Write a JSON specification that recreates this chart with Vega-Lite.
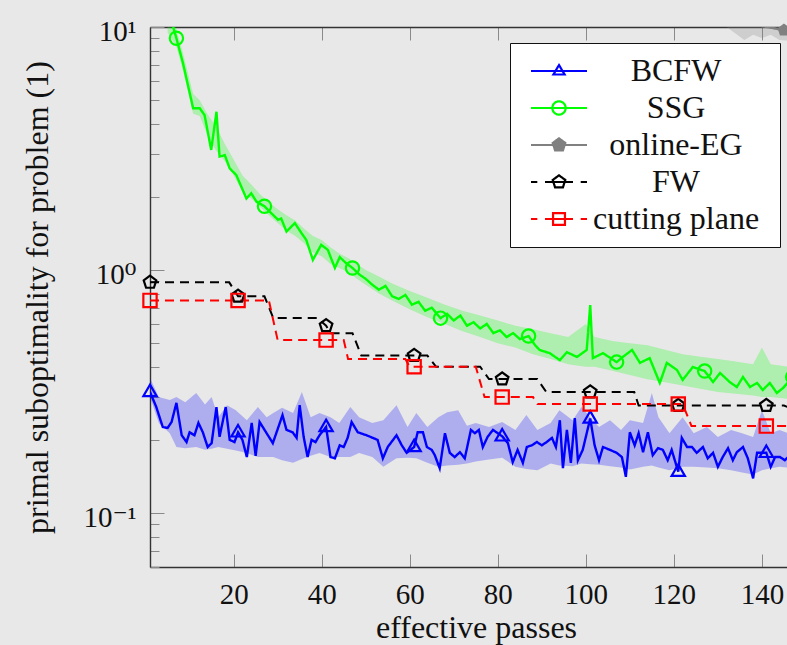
{
  "$schema": "https://vega.github.io/schema/vega-lite/v6.json",
  "width": 637,
  "height": 540,
  "autosize": {"type": "none"},
  "padding": {"left": 150, "top": 27, "right": 0, "bottom": 78},
  "background": "#e8e8e8",
  "view": {"stroke": null},
  "config": {"font": "Liberation Serif, DejaVu Serif, serif"},
  "datasets": {
    "lines": [
      {"series": "BCFW", "passes": 1, "value": 0.315},
      {"series": "BCFW", "passes": 2.4, "value": 0.274},
      {"series": "BCFW", "passes": 3.9, "value": 0.226},
      {"series": "BCFW", "passes": 5, "value": 0.224},
      {"series": "BCFW", "passes": 5.9, "value": 0.237},
      {"series": "BCFW", "passes": 7, "value": 0.284},
      {"series": "BCFW", "passes": 8.2, "value": 0.209},
      {"series": "BCFW", "passes": 9.3, "value": 0.196},
      {"series": "BCFW", "passes": 10, "value": 0.215},
      {"series": "BCFW", "passes": 11.1, "value": 0.209},
      {"series": "BCFW", "passes": 12, "value": 0.235},
      {"series": "BCFW", "passes": 13, "value": 0.215},
      {"series": "BCFW", "passes": 14.1, "value": 0.187},
      {"series": "BCFW", "passes": 15, "value": 0.194},
      {"series": "BCFW", "passes": 16.1, "value": 0.273},
      {"series": "BCFW", "passes": 16.8, "value": 0.206},
      {"series": "BCFW", "passes": 18.2, "value": 0.273},
      {"series": "BCFW", "passes": 19.1, "value": 0.2},
      {"series": "BCFW", "passes": 20.2, "value": 0.196},
      {"series": "BCFW", "passes": 21, "value": 0.215},
      {"series": "BCFW", "passes": 22, "value": 0.2},
      {"series": "BCFW", "passes": 23, "value": 0.17},
      {"series": "BCFW", "passes": 24.1, "value": 0.235},
      {"series": "BCFW", "passes": 25, "value": 0.172},
      {"series": "BCFW", "passes": 25.9, "value": 0.237},
      {"series": "BCFW", "passes": 27.5, "value": 0.213},
      {"series": "BCFW", "passes": 28.9, "value": 0.194},
      {"series": "BCFW", "passes": 31.1, "value": 0.253},
      {"series": "BCFW", "passes": 32, "value": 0.22},
      {"series": "BCFW", "passes": 33.4, "value": 0.215},
      {"series": "BCFW", "passes": 34.3, "value": 0.204},
      {"series": "BCFW", "passes": 35, "value": 0.278},
      {"series": "BCFW", "passes": 35.9, "value": 0.206},
      {"series": "BCFW", "passes": 36.8, "value": 0.17},
      {"series": "BCFW", "passes": 37.7, "value": 0.2},
      {"series": "BCFW", "passes": 38.6, "value": 0.196},
      {"series": "BCFW", "passes": 39.5, "value": 0.209},
      {"series": "BCFW", "passes": 41, "value": 0.226},
      {"series": "BCFW", "passes": 42, "value": 0.17},
      {"series": "BCFW", "passes": 43, "value": 0.168},
      {"series": "BCFW", "passes": 44.1, "value": 0.19},
      {"series": "BCFW", "passes": 45, "value": 0.187},
      {"series": "BCFW", "passes": 45.9, "value": 0.204},
      {"series": "BCFW", "passes": 46.8, "value": 0.237},
      {"series": "BCFW", "passes": 48.2, "value": 0.215},
      {"series": "BCFW", "passes": 50.2, "value": 0.209},
      {"series": "BCFW", "passes": 51.6, "value": 0.204},
      {"series": "BCFW", "passes": 52.7, "value": 0.2},
      {"series": "BCFW", "passes": 53.9, "value": 0.168},
      {"series": "BCFW", "passes": 55, "value": 0.187},
      {"series": "BCFW", "passes": 57, "value": 0.209},
      {"series": "BCFW", "passes": 58.2, "value": 0.19},
      {"series": "BCFW", "passes": 59.3, "value": 0.177},
      {"series": "BCFW", "passes": 61, "value": 0.187},
      {"series": "BCFW", "passes": 61.8, "value": 0.215},
      {"series": "BCFW", "passes": 63, "value": 0.215},
      {"series": "BCFW", "passes": 63.9, "value": 0.187},
      {"series": "BCFW", "passes": 65, "value": 0.182},
      {"series": "BCFW", "passes": 65.7, "value": 0.173},
      {"series": "BCFW", "passes": 66.8, "value": 0.153},
      {"series": "BCFW", "passes": 68, "value": 0.213},
      {"series": "BCFW", "passes": 69.1, "value": 0.177},
      {"series": "BCFW", "passes": 70.2, "value": 0.17},
      {"series": "BCFW", "passes": 71.4, "value": 0.178},
      {"series": "BCFW", "passes": 72.5, "value": 0.168},
      {"series": "BCFW", "passes": 73.9, "value": 0.22},
      {"series": "BCFW", "passes": 74.8, "value": 0.213},
      {"series": "BCFW", "passes": 75.7, "value": 0.22},
      {"series": "BCFW", "passes": 76.6, "value": 0.187},
      {"series": "BCFW", "passes": 77.7, "value": 0.206},
      {"series": "BCFW", "passes": 78.9, "value": 0.22},
      {"series": "BCFW", "passes": 81, "value": 0.207},
      {"series": "BCFW", "passes": 82.3, "value": 0.194},
      {"series": "BCFW", "passes": 83.4, "value": 0.162},
      {"series": "BCFW", "passes": 84.5, "value": 0.182},
      {"series": "BCFW", "passes": 85.7, "value": 0.161},
      {"series": "BCFW", "passes": 86.6, "value": 0.187},
      {"series": "BCFW", "passes": 87.7, "value": 0.19},
      {"series": "BCFW", "passes": 88.9, "value": 0.196},
      {"series": "BCFW", "passes": 90, "value": 0.19},
      {"series": "BCFW", "passes": 91.1, "value": 0.196},
      {"series": "BCFW", "passes": 92.3, "value": 0.204},
      {"series": "BCFW", "passes": 93.2, "value": 0.187},
      {"series": "BCFW", "passes": 94.1, "value": 0.241},
      {"series": "BCFW", "passes": 94.8, "value": 0.153},
      {"series": "BCFW", "passes": 95.7, "value": 0.22},
      {"series": "BCFW", "passes": 96.6, "value": 0.161},
      {"series": "BCFW", "passes": 97.5, "value": 0.246},
      {"series": "BCFW", "passes": 98.2, "value": 0.165},
      {"series": "BCFW", "passes": 99.3, "value": 0.182},
      {"series": "BCFW", "passes": 100.2, "value": 0.213},
      {"series": "BCFW", "passes": 101, "value": 0.245},
      {"series": "BCFW", "passes": 102, "value": 0.19},
      {"series": "BCFW", "passes": 103, "value": 0.165},
      {"series": "BCFW", "passes": 103.9, "value": 0.187},
      {"series": "BCFW", "passes": 105.5, "value": 0.182},
      {"series": "BCFW", "passes": 107, "value": 0.177},
      {"series": "BCFW", "passes": 108.2, "value": 0.17},
      {"series": "BCFW", "passes": 109.1, "value": 0.141},
      {"series": "BCFW", "passes": 110, "value": 0.215},
      {"series": "BCFW", "passes": 111.1, "value": 0.19},
      {"series": "BCFW", "passes": 112, "value": 0.213},
      {"series": "BCFW", "passes": 113, "value": 0.178},
      {"series": "BCFW", "passes": 114.1, "value": 0.215},
      {"series": "BCFW", "passes": 115.2, "value": 0.173},
      {"series": "BCFW", "passes": 116.4, "value": 0.185},
      {"series": "BCFW", "passes": 117.5, "value": 0.182},
      {"series": "BCFW", "passes": 118.6, "value": 0.165},
      {"series": "BCFW", "passes": 119.5, "value": 0.182},
      {"series": "BCFW", "passes": 121, "value": 0.148},
      {"series": "BCFW", "passes": 121.8, "value": 0.204},
      {"series": "BCFW", "passes": 123, "value": 0.187},
      {"series": "BCFW", "passes": 124.1, "value": 0.187},
      {"series": "BCFW", "passes": 125.2, "value": 0.177},
      {"series": "BCFW", "passes": 126.6, "value": 0.187},
      {"series": "BCFW", "passes": 127.7, "value": 0.168},
      {"series": "BCFW", "passes": 128.9, "value": 0.177},
      {"series": "BCFW", "passes": 130, "value": 0.155},
      {"series": "BCFW", "passes": 131.1, "value": 0.17},
      {"series": "BCFW", "passes": 132.3, "value": 0.185},
      {"series": "BCFW", "passes": 133.4, "value": 0.165},
      {"series": "BCFW", "passes": 134.3, "value": 0.178},
      {"series": "BCFW", "passes": 135.7, "value": 0.187},
      {"series": "BCFW", "passes": 136.8, "value": 0.168},
      {"series": "BCFW", "passes": 138, "value": 0.139},
      {"series": "BCFW", "passes": 138.9, "value": 0.177},
      {"series": "BCFW", "passes": 141, "value": 0.177},
      {"series": "BCFW", "passes": 142, "value": 0.155},
      {"series": "BCFW", "passes": 143, "value": 0.17},
      {"series": "BCFW", "passes": 144.1, "value": 0.17},
      {"series": "BCFW", "passes": 145.2, "value": 0.165},
      {"series": "BCFW", "passes": 146.4, "value": 0.173},

      {"series": "SSG", "passes": 5.5, "value": 11.2},
      {"series": "SSG", "passes": 7, "value": 8.99},
      {"series": "SSG", "passes": 8.5, "value": 7.09},
      {"series": "SSG", "passes": 10.8, "value": 4.63},
      {"series": "SSG", "passes": 12.3, "value": 4.63},
      {"series": "SSG", "passes": 13.4, "value": 4.34},
      {"series": "SSG", "passes": 14.9, "value": 3.12},
      {"series": "SSG", "passes": 16.1, "value": 4.48},
      {"series": "SSG", "passes": 16.8, "value": 2.93},
      {"series": "SSG", "passes": 18, "value": 2.97},
      {"series": "SSG", "passes": 19.1, "value": 2.62},
      {"series": "SSG", "passes": 20.6, "value": 2.46},
      {"series": "SSG", "passes": 22.9, "value": 1.97},
      {"series": "SSG", "passes": 24, "value": 2.07},
      {"series": "SSG", "passes": 25.2, "value": 1.91},
      {"series": "SSG", "passes": 27, "value": 1.83},
      {"series": "SSG", "passes": 28.6, "value": 1.71},
      {"series": "SSG", "passes": 30.1, "value": 1.61},
      {"series": "SSG", "passes": 30.8, "value": 1.63},
      {"series": "SSG", "passes": 32, "value": 1.44},
      {"series": "SSG", "passes": 33.9, "value": 1.56},
      {"series": "SSG", "passes": 35.4, "value": 1.42},
      {"series": "SSG", "passes": 36.5, "value": 1.33},
      {"series": "SSG", "passes": 38, "value": 1.1},
      {"series": "SSG", "passes": 39.9, "value": 1.27},
      {"series": "SSG", "passes": 41.4, "value": 1.21},
      {"series": "SSG", "passes": 43, "value": 1.02},
      {"series": "SSG", "passes": 44.1, "value": 1.13},
      {"series": "SSG", "passes": 45.6, "value": 1.065},
      {"series": "SSG", "passes": 47, "value": 1.02},
      {"series": "SSG", "passes": 48.5, "value": 0.96},
      {"series": "SSG", "passes": 50, "value": 0.92},
      {"series": "SSG", "passes": 51.5, "value": 0.87},
      {"series": "SSG", "passes": 53, "value": 0.83},
      {"series": "SSG", "passes": 54.5, "value": 0.86},
      {"series": "SSG", "passes": 56, "value": 0.78},
      {"series": "SSG", "passes": 57.5, "value": 0.76},
      {"series": "SSG", "passes": 59, "value": 0.79},
      {"series": "SSG", "passes": 60.5, "value": 0.72},
      {"series": "SSG", "passes": 62, "value": 0.74},
      {"series": "SSG", "passes": 63.5, "value": 0.68},
      {"series": "SSG", "passes": 65, "value": 0.7},
      {"series": "SSG", "passes": 67, "value": 0.634},
      {"series": "SSG", "passes": 68.5, "value": 0.66},
      {"series": "SSG", "passes": 70, "value": 0.62},
      {"series": "SSG", "passes": 71.5, "value": 0.65},
      {"series": "SSG", "passes": 73, "value": 0.59},
      {"series": "SSG", "passes": 74.5, "value": 0.61},
      {"series": "SSG", "passes": 76, "value": 0.575},
      {"series": "SSG", "passes": 77.5, "value": 0.6},
      {"series": "SSG", "passes": 79, "value": 0.55},
      {"series": "SSG", "passes": 80.5, "value": 0.565},
      {"series": "SSG", "passes": 82, "value": 0.53},
      {"series": "SSG", "passes": 83.5, "value": 0.55},
      {"series": "SSG", "passes": 85, "value": 0.52},
      {"series": "SSG", "passes": 87, "value": 0.535},
      {"series": "SSG", "passes": 88.5, "value": 0.49},
      {"series": "SSG", "passes": 89.5, "value": 0.469},
      {"series": "SSG", "passes": 91.8, "value": 0.455},
      {"series": "SSG", "passes": 94.1, "value": 0.426},
      {"series": "SSG", "passes": 95.7, "value": 0.459},
      {"series": "SSG", "passes": 98, "value": 0.439},
      {"series": "SSG", "passes": 100.2, "value": 0.469},
      {"series": "SSG", "passes": 101, "value": 0.718},
      {"series": "SSG", "passes": 101.6, "value": 0.434},
      {"series": "SSG", "passes": 103.9, "value": 0.455},
      {"series": "SSG", "passes": 107, "value": 0.418},
      {"series": "SSG", "passes": 108.4, "value": 0.439},
      {"series": "SSG", "passes": 110.5, "value": 0.469},
      {"series": "SSG", "passes": 112.3, "value": 0.415},
      {"series": "SSG", "passes": 114.5, "value": 0.434},
      {"series": "SSG", "passes": 116.8, "value": 0.343},
      {"series": "SSG", "passes": 118.4, "value": 0.415},
      {"series": "SSG", "passes": 120.7, "value": 0.388},
      {"series": "SSG", "passes": 122, "value": 0.353},
      {"series": "SSG", "passes": 124.3, "value": 0.399},
      {"series": "SSG", "passes": 127, "value": 0.384},
      {"series": "SSG", "passes": 128.9, "value": 0.346},
      {"series": "SSG", "passes": 130.5, "value": 0.377},
      {"series": "SSG", "passes": 132.7, "value": 0.346},
      {"series": "SSG", "passes": 134.3, "value": 0.33},
      {"series": "SSG", "passes": 135.7, "value": 0.363},
      {"series": "SSG", "passes": 137.3, "value": 0.33},
      {"series": "SSG", "passes": 138.9, "value": 0.343},
      {"series": "SSG", "passes": 140.2, "value": 0.321},
      {"series": "SSG", "passes": 141.8, "value": 0.343},
      {"series": "SSG", "passes": 143.4, "value": 0.312},
      {"series": "SSG", "passes": 144.8, "value": 0.327},
      {"series": "SSG", "passes": 147, "value": 0.363},

      {"series": "online-EG", "passes": 118, "value": 12.6},
      {"series": "online-EG", "passes": 124, "value": 11.8},
      {"series": "online-EG", "passes": 130, "value": 11.0},
      {"series": "online-EG", "passes": 135, "value": 10.5},
      {"series": "online-EG", "passes": 140, "value": 10.1},
      {"series": "online-EG", "passes": 145, "value": 9.7},
      {"series": "online-EG", "passes": 148, "value": 9.5},

      {"series": "FW", "passes": 1, "value": 0.89},
      {"series": "FW", "passes": 19, "value": 0.89},
      {"series": "FW", "passes": 21, "value": 0.78},
      {"series": "FW", "passes": 27, "value": 0.78},
      {"series": "FW", "passes": 29, "value": 0.635},
      {"series": "FW", "passes": 39, "value": 0.635},
      {"series": "FW", "passes": 41, "value": 0.59},
      {"series": "FW", "passes": 42, "value": 0.55},
      {"series": "FW", "passes": 47, "value": 0.55},
      {"series": "FW", "passes": 49, "value": 0.445},
      {"series": "FW", "passes": 61, "value": 0.445},
      {"series": "FW", "passes": 64, "value": 0.445},
      {"series": "FW", "passes": 66, "value": 0.4},
      {"series": "FW", "passes": 76, "value": 0.4},
      {"series": "FW", "passes": 78, "value": 0.356},
      {"series": "FW", "passes": 81, "value": 0.356},
      {"series": "FW", "passes": 89, "value": 0.356},
      {"series": "FW", "passes": 91, "value": 0.315},
      {"series": "FW", "passes": 101, "value": 0.315},
      {"series": "FW", "passes": 111, "value": 0.315},
      {"series": "FW", "passes": 112, "value": 0.277},
      {"series": "FW", "passes": 121, "value": 0.277},
      {"series": "FW", "passes": 141, "value": 0.277},
      {"series": "FW", "passes": 145, "value": 0.277},
      {"series": "FW", "passes": 147, "value": 0.268},

      {"series": "cutting plane", "passes": 1, "value": 0.75},
      {"series": "cutting plane", "passes": 21, "value": 0.75},
      {"series": "cutting plane", "passes": 28, "value": 0.75},
      {"series": "cutting plane", "passes": 30, "value": 0.515},
      {"series": "cutting plane", "passes": 41, "value": 0.515},
      {"series": "cutting plane", "passes": 45, "value": 0.515},
      {"series": "cutting plane", "passes": 46, "value": 0.43},
      {"series": "cutting plane", "passes": 59, "value": 0.43},
      {"series": "cutting plane", "passes": 60, "value": 0.4},
      {"series": "cutting plane", "passes": 61, "value": 0.4},
      {"series": "cutting plane", "passes": 75, "value": 0.4},
      {"series": "cutting plane", "passes": 77, "value": 0.3},
      {"series": "cutting plane", "passes": 81, "value": 0.3},
      {"series": "cutting plane", "passes": 88, "value": 0.3},
      {"series": "cutting plane", "passes": 89, "value": 0.281},
      {"series": "cutting plane", "passes": 101, "value": 0.281},
      {"series": "cutting plane", "passes": 121, "value": 0.281},
      {"series": "cutting plane", "passes": 122, "value": 0.281},
      {"series": "cutting plane", "passes": 124, "value": 0.228},
      {"series": "cutting plane", "passes": 141, "value": 0.228},
      {"series": "cutting plane", "passes": 147, "value": 0.228}
    ],
    "bands": [
      {"series": "BCFW", "passes": 1, "lo": 0.3, "hi": 0.36},
      {"series": "BCFW", "passes": 3, "lo": 0.235, "hi": 0.3},
      {"series": "BCFW", "passes": 5.5, "lo": 0.213, "hi": 0.292},
      {"series": "BCFW", "passes": 7, "lo": 0.187, "hi": 0.3},
      {"series": "BCFW", "passes": 9, "lo": 0.185, "hi": 0.286},
      {"series": "BCFW", "passes": 11.5, "lo": 0.187, "hi": 0.312},
      {"series": "BCFW", "passes": 13.5, "lo": 0.182, "hi": 0.28},
      {"series": "BCFW", "passes": 15, "lo": 0.184, "hi": 0.3},
      {"series": "BCFW", "passes": 16.5, "lo": 0.187, "hi": 0.248},
      {"series": "BCFW", "passes": 18.5, "lo": 0.184, "hi": 0.278},
      {"series": "BCFW", "passes": 20.5, "lo": 0.181, "hi": 0.265},
      {"series": "BCFW", "passes": 23, "lo": 0.1765, "hi": 0.241},
      {"series": "BCFW", "passes": 25.5, "lo": 0.17, "hi": 0.273},
      {"series": "BCFW", "passes": 27.5, "lo": 0.17, "hi": 0.248},
      {"series": "BCFW", "passes": 29, "lo": 0.17, "hi": 0.258},
      {"series": "BCFW", "passes": 31, "lo": 0.165, "hi": 0.271},
      {"series": "BCFW", "passes": 33.5, "lo": 0.161, "hi": 0.258},
      {"series": "BCFW", "passes": 35.5, "lo": 0.167, "hi": 0.315},
      {"series": "BCFW", "passes": 37.5, "lo": 0.172, "hi": 0.248},
      {"series": "BCFW", "passes": 39.5, "lo": 0.1765, "hi": 0.258},
      {"series": "BCFW", "passes": 42, "lo": 0.17, "hi": 0.248},
      {"series": "BCFW", "passes": 44, "lo": 0.17, "hi": 0.235},
      {"series": "BCFW", "passes": 46.5, "lo": 0.17, "hi": 0.273},
      {"series": "BCFW", "passes": 48.5, "lo": 0.1765, "hi": 0.248},
      {"series": "BCFW", "passes": 51.5, "lo": 0.17, "hi": 0.235},
      {"series": "BCFW", "passes": 54, "lo": 0.155, "hi": 0.241},
      {"series": "BCFW", "passes": 57, "lo": 0.168, "hi": 0.278},
      {"series": "BCFW", "passes": 59.5, "lo": 0.169, "hi": 0.226},
      {"series": "BCFW", "passes": 61.5, "lo": 0.168, "hi": 0.258},
      {"series": "BCFW", "passes": 64, "lo": 0.161, "hi": 0.226},
      {"series": "BCFW", "passes": 66.5, "lo": 0.155, "hi": 0.248},
      {"series": "BCFW", "passes": 68.5, "lo": 0.157, "hi": 0.26},
      {"series": "BCFW", "passes": 71, "lo": 0.158, "hi": 0.265},
      {"series": "BCFW", "passes": 73, "lo": 0.16, "hi": 0.229},
      {"series": "BCFW", "passes": 75, "lo": 0.163, "hi": 0.235},
      {"series": "BCFW", "passes": 78, "lo": 0.166, "hi": 0.226},
      {"series": "BCFW", "passes": 81, "lo": 0.169, "hi": 0.237},
      {"series": "BCFW", "passes": 84, "lo": 0.155, "hi": 0.2196},
      {"series": "BCFW", "passes": 86.5, "lo": 0.152, "hi": 0.253},
      {"series": "BCFW", "passes": 89, "lo": 0.15, "hi": 0.2196},
      {"series": "BCFW", "passes": 92, "lo": 0.16, "hi": 0.235},
      {"series": "BCFW", "passes": 94, "lo": 0.157, "hi": 0.265},
      {"series": "BCFW", "passes": 97, "lo": 0.156, "hi": 0.241},
      {"series": "BCFW", "passes": 99, "lo": 0.16, "hi": 0.273},
      {"series": "BCFW", "passes": 101, "lo": 0.159, "hi": 0.248},
      {"series": "BCFW", "passes": 103, "lo": 0.158, "hi": 0.226},
      {"series": "BCFW", "passes": 105.5, "lo": 0.156, "hi": 0.241},
      {"series": "BCFW", "passes": 108, "lo": 0.154, "hi": 0.2196},
      {"series": "BCFW", "passes": 110, "lo": 0.151, "hi": 0.241},
      {"series": "BCFW", "passes": 113, "lo": 0.155, "hi": 0.235},
      {"series": "BCFW", "passes": 115, "lo": 0.157, "hi": 0.312},
      {"series": "BCFW", "passes": 116.5, "lo": 0.154, "hi": 0.248},
      {"series": "BCFW", "passes": 119, "lo": 0.15, "hi": 0.213},
      {"series": "BCFW", "passes": 122, "lo": 0.155, "hi": 0.248},
      {"series": "BCFW", "passes": 124.5, "lo": 0.155, "hi": 0.213},
      {"series": "BCFW", "passes": 127.5, "lo": 0.154, "hi": 0.226},
      {"series": "BCFW", "passes": 130, "lo": 0.153, "hi": 0.2055},
      {"series": "BCFW", "passes": 133, "lo": 0.15, "hi": 0.2196},
      {"series": "BCFW", "passes": 135.5, "lo": 0.147, "hi": 0.213},
      {"series": "BCFW", "passes": 138, "lo": 0.144, "hi": 0.2055},
      {"series": "BCFW", "passes": 140, "lo": 0.15, "hi": 0.265},
      {"series": "BCFW", "passes": 142, "lo": 0.153, "hi": 0.213},
      {"series": "BCFW", "passes": 144, "lo": 0.155, "hi": 0.2196},
      {"series": "BCFW", "passes": 146, "lo": 0.154, "hi": 0.213},

      {"series": "SSG", "passes": 5, "lo": 9.5, "hi": 13},
      {"series": "SSG", "passes": 7, "lo": 8.3, "hi": 9.8},
      {"series": "SSG", "passes": 8.5, "lo": 6.6, "hi": 7.8},
      {"series": "SSG", "passes": 10.8, "lo": 4.4, "hi": 5.3},
      {"series": "SSG", "passes": 12.3, "lo": 4.3, "hi": 5.0},
      {"series": "SSG", "passes": 14, "lo": 3.6, "hi": 4.4},
      {"series": "SSG", "passes": 16, "lo": 3.1, "hi": 3.9},
      {"series": "SSG", "passes": 18, "lo": 2.8, "hi": 3.3},
      {"series": "SSG", "passes": 20, "lo": 2.45, "hi": 2.85},
      {"series": "SSG", "passes": 22, "lo": 2.1, "hi": 2.45},
      {"series": "SSG", "passes": 24, "lo": 1.97, "hi": 2.25},
      {"series": "SSG", "passes": 26, "lo": 1.82, "hi": 2.05},
      {"series": "SSG", "passes": 28, "lo": 1.68, "hi": 1.9},
      {"series": "SSG", "passes": 30, "lo": 1.56, "hi": 1.78},
      {"series": "SSG", "passes": 32, "lo": 1.45, "hi": 1.68},
      {"series": "SSG", "passes": 34, "lo": 1.38, "hi": 1.6},
      {"series": "SSG", "passes": 36, "lo": 1.29, "hi": 1.48},
      {"series": "SSG", "passes": 38, "lo": 1.18, "hi": 1.38},
      {"series": "SSG", "passes": 40, "lo": 1.14, "hi": 1.33},
      {"series": "SSG", "passes": 42, "lo": 1.06, "hi": 1.24},
      {"series": "SSG", "passes": 44, "lo": 1.02, "hi": 1.17},
      {"series": "SSG", "passes": 46, "lo": 0.98, "hi": 1.12},
      {"series": "SSG", "passes": 48, "lo": 0.92, "hi": 1.06},
      {"series": "SSG", "passes": 50, "lo": 0.87, "hi": 1.0},
      {"series": "SSG", "passes": 53, "lo": 0.8, "hi": 0.94},
      {"series": "SSG", "passes": 56, "lo": 0.75, "hi": 0.88},
      {"series": "SSG", "passes": 60, "lo": 0.69, "hi": 0.82},
      {"series": "SSG", "passes": 64, "lo": 0.64, "hi": 0.77},
      {"series": "SSG", "passes": 68, "lo": 0.6, "hi": 0.72},
      {"series": "SSG", "passes": 72, "lo": 0.56, "hi": 0.68},
      {"series": "SSG", "passes": 76, "lo": 0.53, "hi": 0.65},
      {"series": "SSG", "passes": 80, "lo": 0.5, "hi": 0.62},
      {"series": "SSG", "passes": 84, "lo": 0.48, "hi": 0.59},
      {"series": "SSG", "passes": 88, "lo": 0.45, "hi": 0.57},
      {"series": "SSG", "passes": 92, "lo": 0.43, "hi": 0.55},
      {"series": "SSG", "passes": 96, "lo": 0.41, "hi": 0.53},
      {"series": "SSG", "passes": 100, "lo": 0.4, "hi": 0.6},
      {"series": "SSG", "passes": 102, "lo": 0.4, "hi": 0.53},
      {"series": "SSG", "passes": 106, "lo": 0.385, "hi": 0.51},
      {"series": "SSG", "passes": 110, "lo": 0.37, "hi": 0.5},
      {"series": "SSG", "passes": 114, "lo": 0.355, "hi": 0.49},
      {"series": "SSG", "passes": 118, "lo": 0.345, "hi": 0.47},
      {"series": "SSG", "passes": 122, "lo": 0.335, "hi": 0.45},
      {"series": "SSG", "passes": 126, "lo": 0.325, "hi": 0.44},
      {"series": "SSG", "passes": 130, "lo": 0.315, "hi": 0.43},
      {"series": "SSG", "passes": 134, "lo": 0.31, "hi": 0.42},
      {"series": "SSG", "passes": 138, "lo": 0.305, "hi": 0.41},
      {"series": "SSG", "passes": 140, "lo": 0.3, "hi": 0.48},
      {"series": "SSG", "passes": 142, "lo": 0.3, "hi": 0.41},
      {"series": "SSG", "passes": 146, "lo": 0.295, "hi": 0.4},
      {"series": "SSG", "passes": 148, "lo": 0.29, "hi": 0.4},

      {"series": "online-EG", "passes": 118, "lo": 11.2, "hi": 14},
      {"series": "online-EG", "passes": 126, "lo": 10.6, "hi": 13.5},
      {"series": "online-EG", "passes": 132, "lo": 10.0, "hi": 12.5},
      {"series": "online-EG", "passes": 134, "lo": 9.4, "hi": 12},
      {"series": "online-EG", "passes": 136, "lo": 8.85, "hi": 12},
      {"series": "online-EG", "passes": 138, "lo": 9.3, "hi": 11.5},
      {"series": "online-EG", "passes": 140, "lo": 9.0, "hi": 11.5},
      {"series": "online-EG", "passes": 142, "lo": 9.3, "hi": 11.2},
      {"series": "online-EG", "passes": 144, "lo": 8.85, "hi": 11},
      {"series": "online-EG", "passes": 146, "lo": 8.8, "hi": 10.8},
      {"series": "online-EG", "passes": 148, "lo": 8.7, "hi": 10.6}
    ]
  },
  "layer": [
    {
      "data": {"name": "bands"},
      "mark": {"type": "area", "clip": true, "opacity": 0.25},
      "encoding": {
        "x": {
          "field": "passes", "type": "quantitative",
          "scale": {"domain": [1, 145.7], "nice": false, "zero": false},
          "axis": {
            "orient": "top", "values": [20, 40, 60, 80, 100, 120, 140],
            "labels": false, "title": null, "grid": false,
            "tickSize": -13, "tickColor": "#8a8a8a", "tickWidth": 1,
            "domainColor": "#333333", "domainWidth": 1.4
          }
        },
        "y": {
          "field": "lo", "type": "quantitative",
          "scale": {"type": "log", "domain": [0.06, 10], "nice": false, "zero": false},
          "axis": {
            "values": [0.06, 0.07, 0.08, 0.09, 0.1, 0.2, 0.3, 0.4, 0.5, 0.6, 0.7, 0.8, 0.9, 1, 2, 3, 4, 5, 6, 7, 8, 9, 10],
            "labelExpr": "datum.value == 10 ? '10¹' : datum.value == 1 ? '10⁰' : datum.value == 0.1 ? '10⁻¹' : ''",
            "tickSize": {"condition": {"test": "datum.value == 0.1 || datum.value == 1 || datum.value == 10", "value": -14}, "value": -9},
            "tickColor": "#8a8a8a", "tickWidth": 1,
            "domainColor": "#333333", "domainWidth": 1.4, "grid": false,
            "labelFont": "Liberation Serif, DejaVu Serif, serif", "labelFontSize": 29, "labelColor": "#111111",
            "labelPadding": 28, "labelOverlap": false, "labelFlush": false, "labelOffset": 4,
            "title": "primal suboptimality for problem (1)",
            "titleFont": "Liberation Serif, DejaVu Serif, serif", "titleFontSize": 32, "titleFontWeight": "normal",
            "titleColor": "#111111", "titlePadding": 28
          }
        },
        "y2": {"field": "hi"},
        "fill": {
          "field": "series", "type": "nominal",
          "scale": {"domain": ["BCFW", "SSG", "online-EG"], "range": ["#0000ff", "#00ff00", "#808080"]},
          "legend": null
        }
      }
    },
    {
      "data": {"name": "lines"},
      "mark": {"type": "line", "clip": true},
      "encoding": {
        "x": {
          "field": "passes", "type": "quantitative",
          "axis": {
            "orient": "bottom", "values": [20, 40, 60, 80, 100, 120, 140], "format": "d",
            "grid": false, "tickSize": -13, "tickColor": "#8a8a8a", "tickWidth": 1,
            "domainColor": "#333333", "domainWidth": 1.4,
            "labelFont": "Liberation Serif, DejaVu Serif, serif", "labelFontSize": 29, "labelColor": "#111111",
            "labelPadding": 26, "labelFlush": false,
            "title": "effective passes", "titleFont": "Liberation Serif, DejaVu Serif, serif", "titleFontSize": 32,
            "titleFontWeight": "normal", "titleColor": "#111111", "titlePadding": 3, "titleX": 326
          }
        },
        "y": {"field": "value", "type": "quantitative"},
        "color": {
          "field": "series", "type": "nominal",
          "scale": {
            "domain": ["BCFW", "SSG", "online-EG", "FW", "cutting plane"],
            "range": ["#0000ff", "#00ff00", "#808080", "#000000", "#ff0000"]
          },
          "legend": {
            "orient": "none", "legendX": 360, "legendY": 16,
            "title": "\u2003", "titleOrient": "right", "titleFontSize": 8, "titlePadding": 9,
            "fillColor": "#ffffff", "strokeColor": "#111111", "padding": 12, "cornerRadius": 0,
            "labelFont": "Liberation Serif, DejaVu Serif, serif", "labelFontSize": 32, "labelColor": "#111111",
            "labelAlign": "center", "labelOffset": 101, "labelLimit": 400,
            "symbolOffset": 21, "symbolSize": 196, "rowPadding": 5,
            "encode": {
              "symbols": {
                "update": {
                  "shape": {"signal": "datum.value == 'BCFW' ? 'M-4,0H4M0,-0.85L0.8,0.5L-0.8,0.5Z' : datum.value == 'SSG' ? 'M-4,0H4M0.95,0A0.95,0.95 0 1,1 -0.95,0A0.95,0.95 0 1,1 0.95,0Z' : datum.value == 'online-EG' ? 'M-4,0H4M0,-0.95L0.9,-0.29L0.56,0.77L-0.56,0.77L-0.9,-0.29Z' : datum.value == 'FW' ? 'M-4,0H-3.1M-2,0H2M3.1,0H4M0,-0.95L0.9,-0.29L0.56,0.77L-0.56,0.77L-0.9,-0.29Z' : 'M-4,0H-3.1M-2,0H2M3.1,0H4M-0.85,-0.85H0.85V0.85H-0.85Z'"},
                  "stroke": {"signal": "scale('color', datum.value)"},
                  "fill": {"signal": "datum.value == 'online-EG' ? '#808080' : 'transparent'"},
                  "strokeWidth": {"value": 2.2},
                  "strokeDash": {"value": [1, 0]},
                  "size": {"value": 196},
                  "opacity": {"value": 1}
                }
              }
            }
          }
        },
        "strokeDash": {
          "condition": {"test": "datum.series == 'FW' || datum.series == 'cutting plane'", "value": [9, 6]},
          "value": [1, 0]
        },
        "strokeWidth": {
          "condition": {"test": "datum.series == 'FW' || datum.series == 'cutting plane'", "value": 2.0},
          "value": 2.4
        }
      }
    },
    {
      "data": {"name": "lines"},
      "transform": [
        {"filter": "datum.series == 'SSG' ? indexof([7, 27, 47, 67, 87, 107, 127, 147], datum.passes) >= 0 : datum.series == 'online-EG' ? false : indexof([1, 21, 41, 61, 81, 101, 121, 141], datum.passes) >= 0"}
      ],
      "mark": {"type": "point", "filled": false, "clip": false, "size": 196, "strokeWidth": 2.2, "opacity": 1},
      "encoding": {
        "x": {"field": "passes", "type": "quantitative", "axis": null},
        "y": {"field": "value", "type": "quantitative"},
        "shape": {
          "field": "series", "type": "nominal",
          "scale": {
            "domain": ["BCFW", "SSG", "FW", "cutting plane"],
            "range": [
              "M0,-1.05L0.95,0.6L-0.95,0.6Z",
              "M0.95,0A0.95,0.95 0 1,1 -0.95,0A0.95,0.95 0 1,1 0.95,0Z",
              "M0,-0.95L0.9,-0.29L0.56,0.77L-0.56,0.77L-0.9,-0.29Z",
              "M-0.95,-0.95H0.95V0.95H-0.95Z"
            ]
          },
          "legend": null
        },
        "stroke": {
          "field": "series", "type": "nominal",
          "scale": {"domain": ["BCFW", "SSG", "FW", "cutting plane"], "range": ["#0000ff", "#00ff00", "#000000", "#ff0000"]},
          "legend": null
        }
      }
    },
    {
      "data": {"name": "lines"},
      "transform": [{"filter": "datum.series == 'online-EG' && datum.passes == 145"}],
      "mark": {
        "type": "point", "filled": true, "clip": false, "size": 196, "opacity": 1,
        "color": "#808080",
        "shape": "M0,-0.95L0.9,-0.29L0.56,0.77L-0.56,0.77L-0.9,-0.29Z"
      },
      "encoding": {
        "x": {"field": "passes", "type": "quantitative", "axis": null},
        "y": {"field": "value", "type": "quantitative"}
      }
    }
  ],
  "resolve": {"axis": {"x": "independent"}}
}
